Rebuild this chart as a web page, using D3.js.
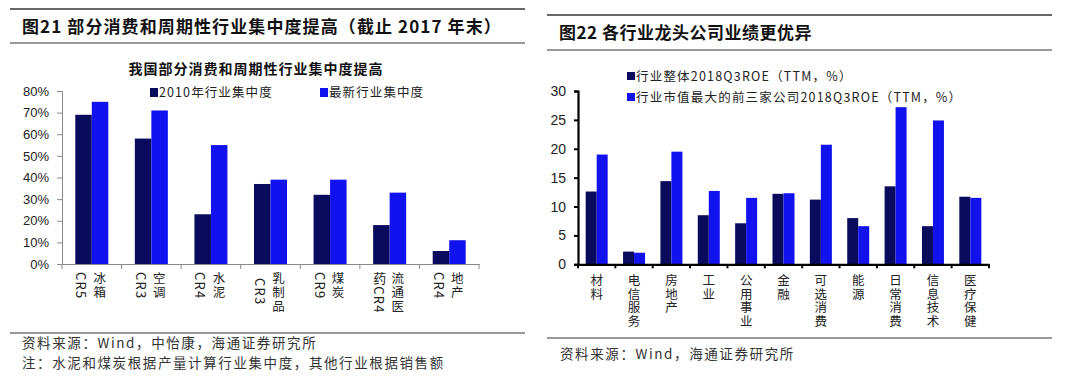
<!DOCTYPE html>
<html><head><meta charset="utf-8">
<script src="https://cdn.jsdelivr.net/npm/d3@7"></script>
<style>
body{margin:0;background:#fff;}
svg{display:block;}
text{font-family:"Liberation Sans",Arial,sans-serif;}
.cjk{font-family:"Noto Sans CJK SC",sans-serif;}
.vert{writing-mode:vertical-rl;text-orientation:mixed;font-family:"Noto Sans CJK SC",sans-serif;}
</style></head><body>
<svg id="c" width="1080" height="381"></svg>
<script>
// ---- Left chart data ----
const leftCategories = ["CR5冰箱","CR3空调","CR4水泥","CR3乳制品","CR9煤炭","流通医药CR4","CR4地产"];
// label columns: [right column, left column]
const leftLabelCols = [["冰箱","CR5"],["空调","CR3"],["水泥","CR4"],["乳制品","CR3"],["煤炭","CR9"],["流通医","药CR4"],["地产","CR4"]];
const leftSeriesNames = ["2010年行业集中度","最新行业集中度"];
const left2010 = [0.69,0.58,0.23,0.37,0.32,0.18,0.06];
const leftLatest = [0.75,0.71,0.55,0.39,0.39,0.33,0.11];
const leftTicks = [0,0.1,0.2,0.3,0.4,0.5,0.6,0.7,0.8];

// ---- Right chart data ----
const rightCategories = ["材料","电信服务","房地产","工业","公用事业","金融","可选消费","能源","日常消费","信息技术","医疗保健"];
const rightSeriesNames = ["行业整体2018Q3ROE（TTM，%）","行业市值最大的前三家公司2018Q3ROE（TTM，%）"];
const rightIndustry = [12.6,2.2,14.4,8.5,7.1,12.2,11.2,8.0,13.5,6.6,11.7];
const rightTop3 = [19.0,2.0,19.5,12.7,11.5,12.3,20.7,6.6,27.2,24.9,11.5];
const rightTicks = [0,5,10,15,20,25,30];

const colDark = "#0b0b5e", colBlue = "#1212ee";
const svg = d3.select("#c");

// ===== Panel headers =====
function header(x1,x2,yTop,yBot,title,tx,ty,ls){
  svg.append("line").attr("x1",x1).attr("x2",x2).attr("y1",yTop).attr("y2",yTop).attr("stroke","#333").attr("stroke-width",1.3);
  svg.append("line").attr("x1",x1).attr("x2",x2).attr("y1",yBot).attr("y2",yBot).attr("stroke","#777").attr("stroke-width",1.3);
  svg.append("text").attr("class","cjk").attr("x",tx).attr("y",ty).attr("font-size",17).attr("font-weight","bold")
    .attr("letter-spacing",ls).attr("fill","#111").text(title);
}
header(10,525,9,43,"图21 部分消费和周期性行业集中度提高（截止 2017 年末）",22,33,1.1);
header(547,1052,15,50,"图22 各行业龙头公司业绩更优异",559,39,0.5);

// ===== Left chart =====
const L = {x0:62,x1:479,y0:264,y1:91};
const ly = d3.scaleLinear().domain([0,0.8]).range([L.y0,L.y1]);
const lx = d3.scaleBand().domain(leftCategories).range([L.x0,L.x1]).paddingInner(0).paddingOuter(0);
const lx1 = d3.scaleBand().domain([0,1]).range([0,33]);
const lOff = (lx.bandwidth()-33)/2;

svg.append("text").attr("class","cjk").attr("x",256).attr("y",74).attr("text-anchor","middle")
  .attr("font-size",14).attr("font-weight","bold").attr("letter-spacing",1).attr("fill","#111").text("我国部分消费和周期性行业集中度提高");

const lSeries = [left2010,leftLatest];
lSeries.forEach((vals,si)=>{
  svg.append("g").selectAll("rect").data(vals).join("rect")
    .attr("x",(d,i)=>lx(leftCategories[i])+lOff+lx1(si))
    .attr("width",lx1.bandwidth())
    .attr("y",d=>ly(d)).attr("height",d=>L.y0-ly(d))
    .attr("fill",si===0?colDark:colBlue);
});

const lyAxis = svg.append("g").attr("transform",`translate(${L.x0},0)`)
  .call(d3.axisLeft(ly).tickValues(leftTicks).tickFormat(d3.format(".0%")).tickSizeOuter(0).tickSize(5).tickPadding(8));
lyAxis.select(".domain").attr("stroke","#888");
lyAxis.selectAll(".tick line").attr("stroke","#888");
lyAxis.selectAll("text").attr("font-size",13).attr("fill","#222").attr("font-family","Liberation Sans, Arial, sans-serif");

const lxAxis = svg.append("g").attr("transform",`translate(0,${L.y0})`)
  .call(d3.axisBottom(lx).tickSize(0).tickFormat(""));
lxAxis.select(".domain").attr("stroke","#888");
svg.append("g").selectAll("line").data(d3.range(leftCategories.length+1)).join("line")
  .attr("x1",i=>L.x0+i*lx.bandwidth()).attr("x2",i=>L.x0+i*lx.bandwidth())
  .attr("y1",L.y0).attr("y2",L.y0+5).attr("stroke","#888");

// vertical label column: one text element in vertical writing mode
function vertText(g,str,cx,ytop,fs,ls){
  g.append("text").attr("class","vert").attr("x",cx).attr("y",ytop)
    .attr("font-size",fs).attr("letter-spacing",ls).attr("fill","#222").text(str);
}
const lLab = svg.append("g");
leftLabelCols.forEach((cols,i)=>{
  const c = lx(leftCategories[i])+lx.bandwidth()/2;
  vertText(lLab,cols[0],c+8,272,12.5,1.5);
  vertText(lLab,cols[1],c-10,i===3?278:272,13,1.2);
});

// legend left
[[150,leftSeriesNames[0],colDark],[320,leftSeriesNames[1],colBlue]].forEach(([x,t,c])=>{
  svg.append("rect").attr("x",x).attr("y",88).attr("width",8).attr("height",9).attr("fill",c);
  svg.append("text").attr("class","cjk").attr("x",x+9).attr("y",97).attr("font-size",12.5).attr("letter-spacing",1.1).attr("fill","#222").text(t);
});

// left footer
svg.append("line").attr("x1",10).attr("x2",525).attr("y1",333).attr("y2",333).attr("stroke","#333").attr("stroke-width",1.2);
svg.append("text").attr("class","cjk").attr("x",22).attr("y",348).attr("font-size",13.5).attr("letter-spacing",1.6).attr("fill","#333").text("资料来源：Wind，中怡康，海通证券研究所");
svg.append("text").attr("class","cjk").attr("x",22).attr("y",368).attr("font-size",13.5).attr("letter-spacing",1.6).attr("fill","#333").text("注：水泥和煤炭根据产量计算行业集中度，其他行业根据销售额");

// ===== Right chart =====
const R = {x0:578,x1:989,y0:264.3,y1:91};
const ry = d3.scaleLinear().domain([0,30]).range([R.y0,R.y1]);
const rx = d3.scaleBand().domain(rightCategories).range([R.x0,R.x1]);
const rx1 = d3.scaleBand().domain([0,1]).range([0,22]);
const rOff = (rx.bandwidth()-22)/2;
[rightIndustry,rightTop3].forEach((vals,si)=>{
  svg.append("g").selectAll("rect").data(vals).join("rect")
    .attr("x",(d,i)=>rx(rightCategories[i])+rOff+rx1(si))
    .attr("width",rx1.bandwidth())
    .attr("y",d=>ry(d)).attr("height",d=>R.y0-ry(d))
    .attr("fill",si===0?colDark:colBlue);
});
const ryAxis = svg.append("g").attr("transform",`translate(${R.x0},0)`)
  .call(d3.axisLeft(ry).tickValues(rightTicks).tickSizeOuter(0).tickSize(4).tickPadding(8));
ryAxis.select(".domain").attr("stroke","#000").attr("stroke-width",2.2);
ryAxis.selectAll(".tick line").attr("stroke","#000").attr("stroke-width",2);
ryAxis.selectAll("text").attr("font-size",14).attr("fill","#222").attr("font-family","Liberation Sans, Arial, sans-serif");
const rxAxis = svg.append("g").attr("transform",`translate(0,${R.y0})`)
  .call(d3.axisBottom(rx).tickSize(0).tickFormat(""));
rxAxis.select(".domain").attr("stroke","#000").attr("stroke-width",2.2);
svg.append("g").selectAll("line").data(d3.range(rightCategories.length+1)).join("line")
  .attr("x1",i=>R.x0+i*rx.bandwidth()).attr("x2",i=>R.x0+i*rx.bandwidth())
  .attr("y1",R.y0).attr("y2",R.y0+4).attr("stroke","#000").attr("stroke-width",2);
const rLab = svg.append("g");
rightCategories.forEach((cat,i)=>{
  const c = rx(cat)+rx.bandwidth()/2;
  vertText(rLab,cat,c,274,12.5,1);
});
// legend right
[[71,rightSeriesNames[0],colDark],[92,rightSeriesNames[1],colBlue]].forEach(([y,t,c])=>{
  svg.append("rect").attr("x",627).attr("y",y+1).attr("width",8).attr("height",8).attr("fill",c);
  svg.append("text").attr("class","cjk").attr("x",636).attr("y",y+10).attr("font-size",12.5).attr("letter-spacing",1.2).attr("fill","#222").text(t);
});
// right footer
svg.append("line").attr("x1",547).attr("x2",1052).attr("y1",338).attr("y2",338).attr("stroke","#333").attr("stroke-width",1.2);
svg.append("text").attr("class","cjk").attr("x",560).attr("y",359).attr("font-size",13.5).attr("letter-spacing",1.6).attr("fill","#333").text("资料来源：Wind，海通证券研究所");
</script>
</body></html>
